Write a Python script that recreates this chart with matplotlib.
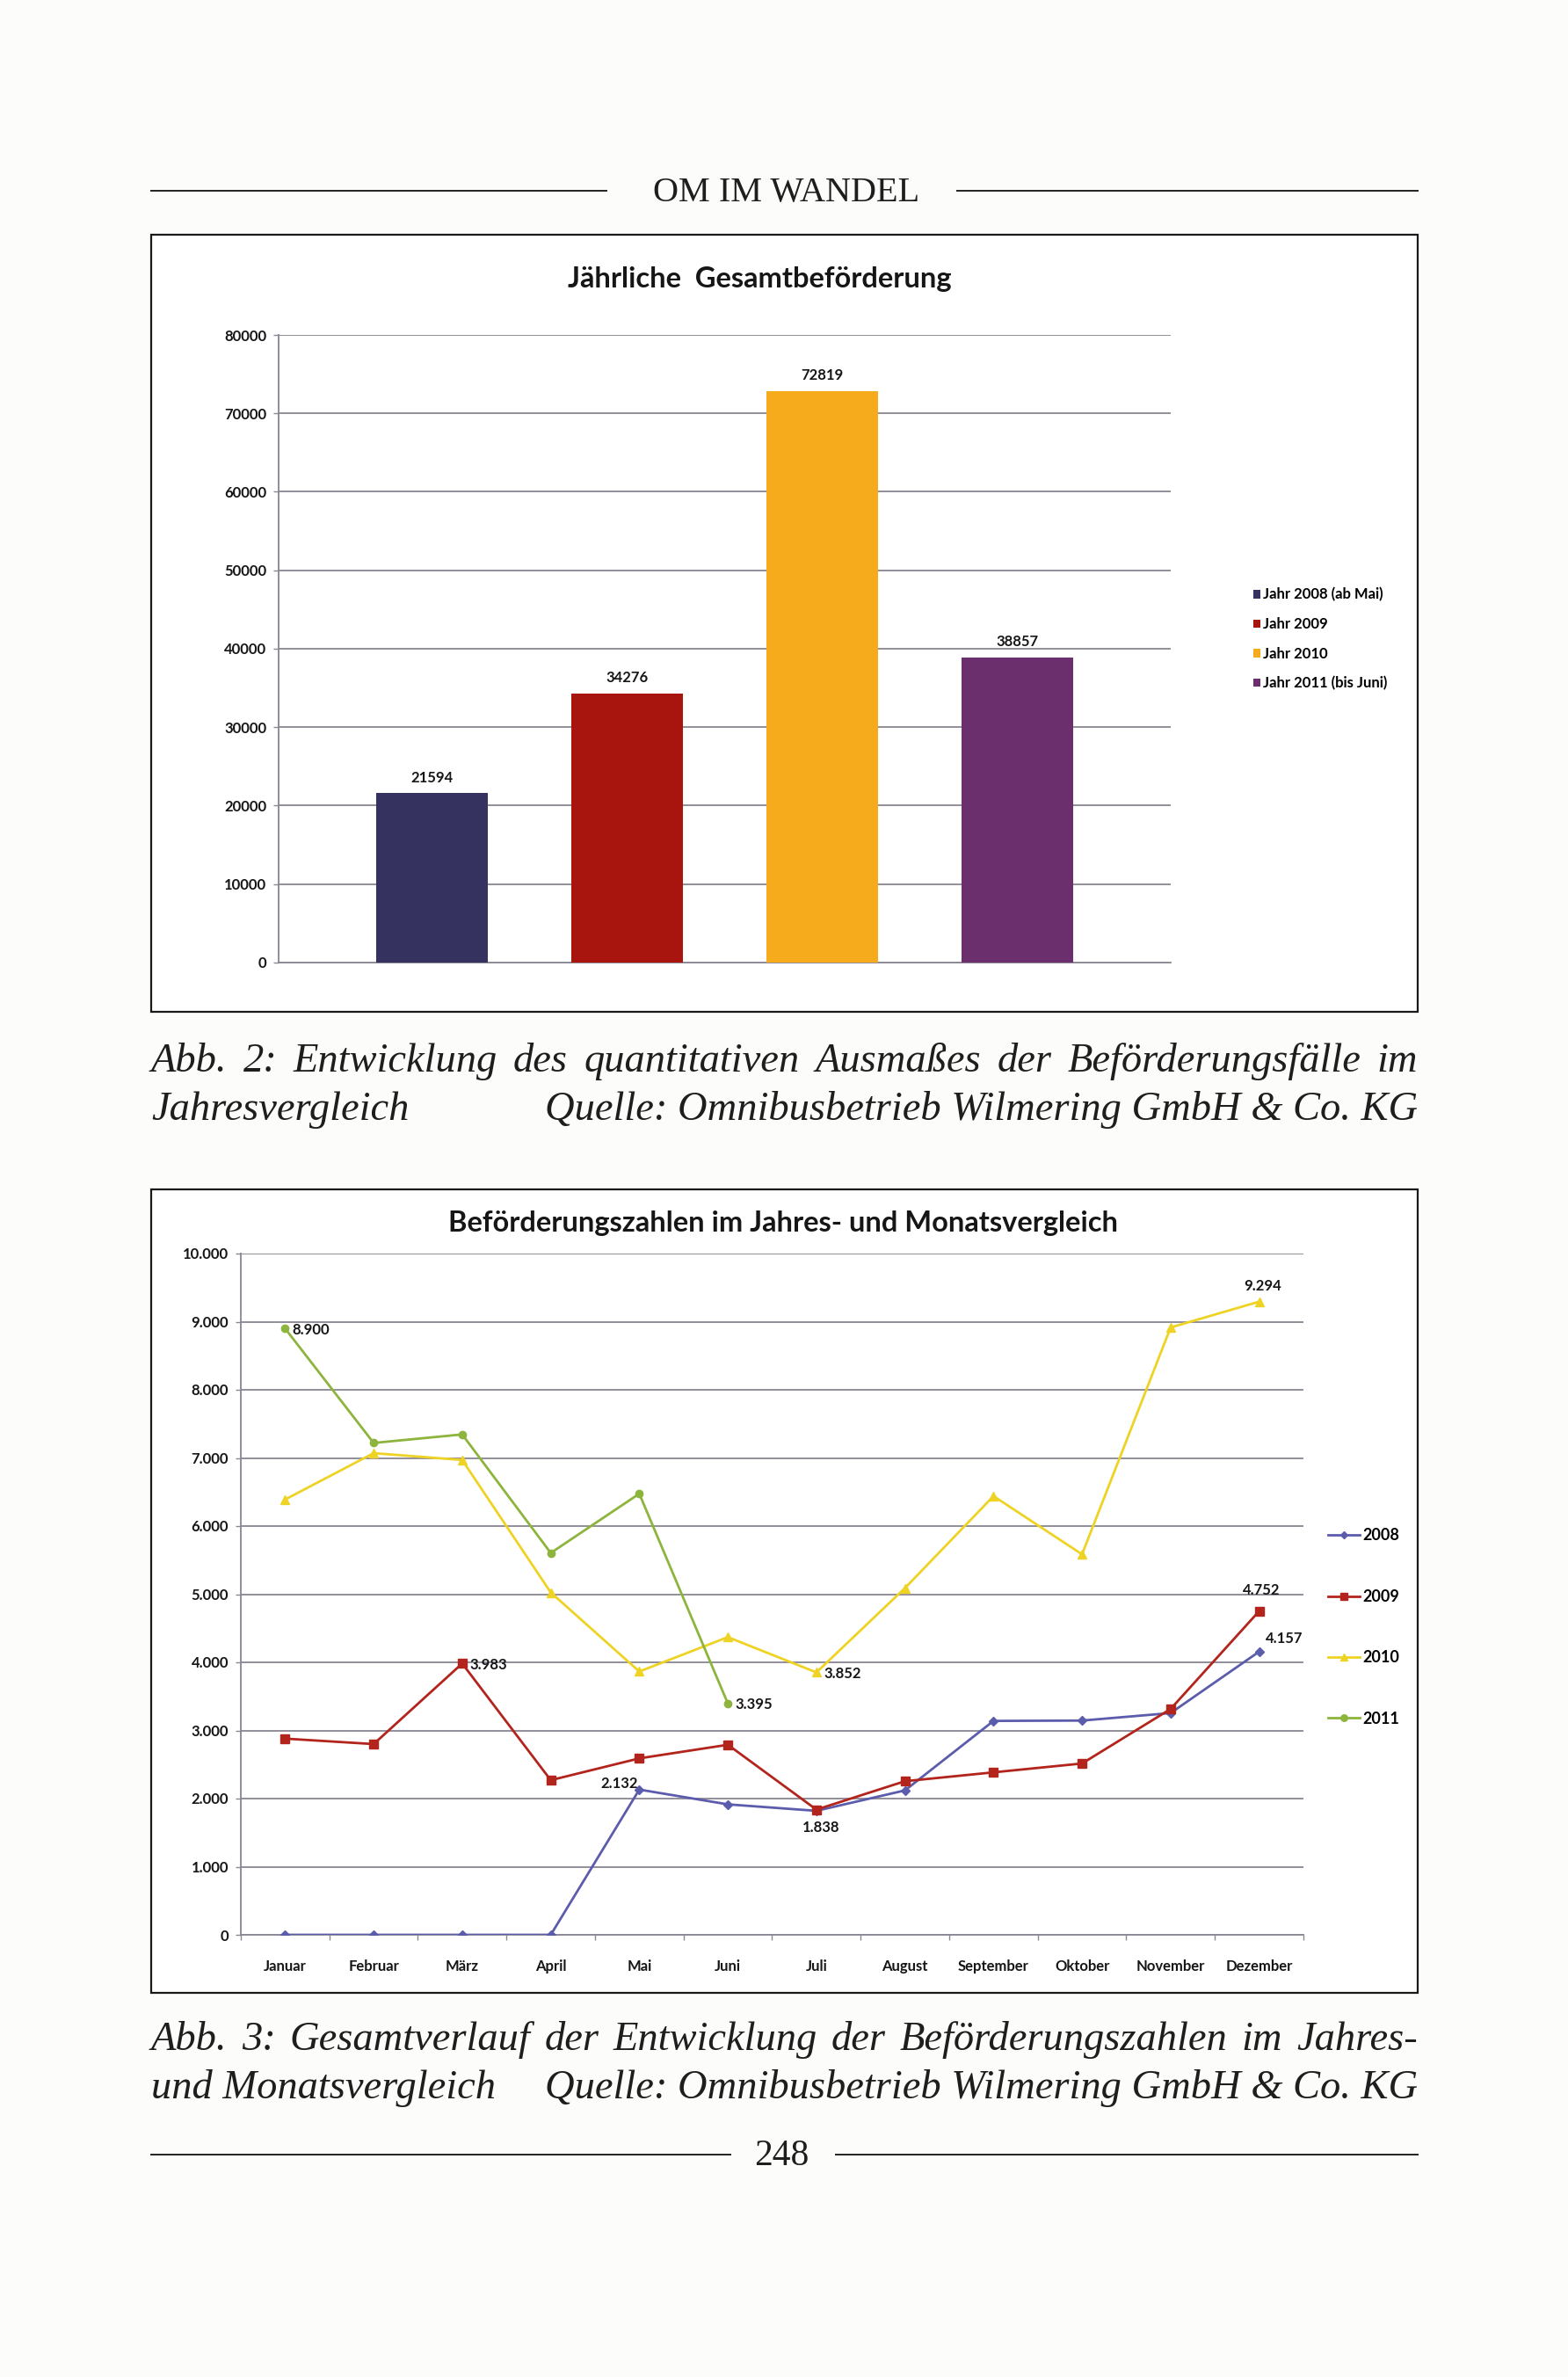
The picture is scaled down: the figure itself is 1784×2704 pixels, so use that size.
import matplotlib
matplotlib.use('Agg')
import matplotlib.pyplot as plt
from matplotlib.patches import Rectangle, Patch
from matplotlib.lines import Line2D

W, H = 1784, 2704
DPI = 100

# ---------------- data ----------------
bar_labels = ['Jahr 2008 (ab Mai)', 'Jahr 2009', 'Jahr 2010', 'Jahr 2011 (bis Juni)']
bar_values = [21594, 34276, 72819, 38857]
bar_colors = ['#35325f', '#a8150f', '#f6ab1d', '#6b2f6d']
bar_yticks = [0, 10000, 20000, 30000, 40000, 50000, 60000, 70000, 80000]

months = ['Januar', 'Februar', 'März', 'April', 'Mai', 'Juni', 'Juli',
          'August', 'September', 'Oktober', 'November', 'Dezember']
years = ['2008', '2009', '2010', '2011']
y2008 = [0, 0, 0, 0, 2132, 1915, 1820, 2120, 3140, 3145, 3255, 4157]
y2009 = [2880, 2800, 3983, 2270, 2590, 2790, 1838, 2255, 2385, 2515, 3315, 4752]
y2010 = [6390, 7070, 6970, 5025, 3865, 4370, 3852, 5090, 6440, 5585, 8915, 9294]
y2011 = [8900, 7220, 7345, 5605, 6475, 3395]
line_colors = ['#5c5cad', '#b3241d', '#efd324', '#8db43c']
line_markers = ['D', 's', '^', 'o']
line_msize = [5, 7, 7, 6]
line_yticks = [0, 1000, 2000, 3000, 4000, 5000, 6000, 7000, 8000, 9000, 10000]

# (series index, month index, label, x offset, y offset, ha, va)
line_annotations = [
    (3, 0, '8.900', 6, -1, 'left', 'center'),
    (2, 11, '9.294', 3, 7, 'center', 'bottom'),
    (1, 2, '3.983', 6, -1, 'left', 'center'),
    (1, 11, '4.752', 2, 11, 'center', 'bottom'),
    (0, 11, '4.157', 5, 5, 'left', 'bottom'),
    (2, 6, '3.852', 6, -1, 'left', 'center'),
    (3, 5, '3.395', 6, -1, 'left', 'center'),
    (0, 4, '2.132', -1, 5, 'right', 'center'),
    (1, 6, '1.838', 4, -15, 'center', 'center'),
]

caption2 = ['Abb. 2: Entwicklung des quantitativen Ausmaßes der Beförderungsfälle im',
            'Jahresvergleich', 'Quelle: Omnibusbetrieb Wilmering GmbH & Co. KG']
caption3 = ['Abb. 3: Gesamtverlauf der Entwicklung der Beförderungszahlen im Jahres-',
            'und Monatsvergleich', 'Quelle: Omnibusbetrieb Wilmering GmbH & Co. KG']

# ---------------- setup ----------------
plt.rcParams['font.family'] = ['Lato', 'DejaVu Sans']
fig = plt.figure(figsize=(W / DPI, H / DPI), dpi=DPI, facecolor='#fcfcfa')
GRID = '#8a8692'
TXT = '#161616'


def fx(x):
    return x / W


def fy(y):
    return 1 - y / H


def ax_px(l, t, r, b):
    return fig.add_axes([l / W, 1 - b / H, (r - l) / W, (b - t) / H])


def hline(x0, x1, y, lw=1.4):
    fig.add_artist(Line2D([fx(x0), fx(x1)], [fy(y), fy(y)], transform=fig.transFigure,
                          color='#222222', lw=lw))


def frame(l, t, r, b):
    fig.add_artist(Rectangle((fx(l), fy(b)), (r - l) / W, (b - t) / H,
                             transform=fig.transFigure, fill=True, facecolor='white',
                             edgecolor='#1a1a1a', lw=1.6, zorder=0))


serif = dict(family=['Liberation Serif', 'DejaVu Serif'], color='#1e1e1e')
renderer = fig.canvas.get_renderer()


def justified(line, x0, x1, y, **kw):
    words = line.split()
    texts = [fig.text(0, 0, w, ha='left', va='baseline', **kw) for w in words]
    widths = [t.get_window_extent(renderer).width for t in texts]
    gap = (x1 - x0 - sum(widths)) / (len(words) - 1)
    x = x0
    for t, w in zip(texts, widths):
        t.set_position((fx(x), fy(y)))
        x += w + gap


# ---------------- header ----------------
hline(172, 690, 217)
hline(1089, 1613, 217)
fig.text(fx(895), fy(229), 'OM IM WANDEL', ha='center', va='baseline', fontsize=29, **serif)

# ---------------- bar chart ----------------
frame(172, 267, 1613, 1151)
fig.text(fx(864), fy(317), 'Jährliche  Gesamtbeförderung', ha='center', va='center',
         fontsize=23.5, fontweight='bold', color=TXT)

ax1 = ax_px(317, 381, 1332, 1095)
ax1.set_facecolor('white')
x = list(range(len(bar_values)))
bars = ax1.bar(x, bar_values, width=0.57, color=bar_colors, zorder=3)
for xi, v in zip(x, bar_values):
    ax1.annotate(f'{v}', (xi, v), xytext=(0, 7), textcoords='offset points',
                 ha='center', va='bottom', fontsize=12, fontweight='bold', color=TXT)
ax1.set_xlim(-0.784, 3.784)
ax1.set_ylim(0, 80000)
ax1.set_yticks(bar_yticks)
ax1.set_yticklabels([str(v) for v in bar_yticks], fontweight='bold')
ax1.set_xticks([])
ax1.grid(axis='y', color=GRID, lw=1.3, zorder=0)
for s in ['top', 'right']:
    ax1.spines[s].set_visible(False)
ax1.spines['left'].set_color(GRID)
ax1.spines['bottom'].set_color(GRID)
ax1.spines['left'].set_linewidth(1.3)
ax1.spines['bottom'].set_linewidth(1.3)
ax1.tick_params(axis='y', length=4, width=1, color=GRID, pad=6, labelsize=12,
                labelcolor=TXT)
leg1 = ax1.legend(handles=[Patch(facecolor=c, label=l) for c, l in zip(bar_colors, bar_labels)],
                  loc='center left', bbox_to_anchor=(fx(1426), fy(727)),
                  bbox_transform=fig.transFigure, frameon=False,
                  prop={'size': 12, 'weight': 'bold'},
                  handlelength=0.5, handleheight=0.5, handletextpad=0.15,
                  labelspacing=1.05, borderaxespad=0, borderpad=0)

# caption 2
CAP = 33.5
justified(caption2[0], 172, 1613, 1219, fontsize=CAP, style='italic', **serif)
fig.text(fx(172), fy(1274), caption2[1], ha='left', va='baseline', fontsize=CAP,
         style='italic', **serif)
fig.text(fx(1613), fy(1274), caption2[2], ha='right', va='baseline', fontsize=CAP,
         style='italic', **serif)

# ---------------- line chart ----------------
frame(172, 1353, 1613, 2267)
fig.text(fx(891), fy(1392), 'Beförderungszahlen im Jahres- und Monatsvergleich',
         ha='center', va='center', fontsize=23.5, fontweight='bold', color=TXT)

ax2 = ax_px(274, 1426, 1483, 2201)
ax2.set_facecolor('white')
series = [y2008, y2009, y2010, y2011]
for ys, c, m, ms, lab in zip(series, line_colors, line_markers, line_msize, years):
    ax2.plot(range(len(ys)), ys, color=c, marker=m, markersize=ms, lw=2.0,
             label=lab, zorder=3, markeredgecolor=c)
for si, mi, txt, dx, dy, ha, va in line_annotations:
    ax2.annotate(txt, (mi, series[si][mi]), xytext=(dx, dy), textcoords='offset points',
                 ha=ha, va=va, fontsize=12, fontweight='bold', color=TXT)
ax2.set_xlim(-0.5, 11.5)
ax2.set_ylim(0, 10000)
ax2.set_yticks(line_yticks)
ax2.set_yticklabels(['0' if v == 0 else f'{v // 1000}.{v % 1000:03d}' for v in line_yticks],
                    fontweight='bold')
ax2.set_xticks(range(len(months)))
ax2.set_xticklabels(months, fontweight='bold')
ax2.set_xticks([i - 0.5 for i in range(len(months) + 1)], minor=True)
ax2.tick_params(axis='x', which='major', length=0, pad=20, labelsize=12,
                labelcolor=TXT)
ax2.tick_params(axis='x', which='minor', length=4, width=1, color=GRID)
ax2.tick_params(axis='y', length=4, width=1, color=GRID, pad=6, labelsize=12,
                labelcolor=TXT)
ax2.grid(axis='y', color=GRID, lw=1.3, zorder=0)
for s in ['top', 'right']:
    ax2.spines[s].set_visible(False)
ax2.spines['left'].set_color(GRID)
ax2.spines['bottom'].set_color(GRID)
ax2.spines['left'].set_linewidth(1.3)
ax2.spines['bottom'].set_linewidth(1.3)
ax2.legend(loc='center left', bbox_to_anchor=(fx(1511), fy(1851)),
           bbox_transform=fig.transFigure, frameon=False,
           prop={'size': 13, 'weight': 'bold'},
           handlelength=2.0, handletextpad=0.2, labelspacing=2.9,
           borderaxespad=0, borderpad=0, markerscale=0.9)

# caption 3
justified(caption3[0], 172, 1613, 2332, fontsize=CAP, style='italic', **serif)
fig.text(fx(172), fy(2387), caption3[1], ha='left', va='baseline', fontsize=CAP,
         style='italic', **serif)
fig.text(fx(1613), fy(2387), caption3[2], ha='right', va='baseline', fontsize=CAP,
         style='italic', **serif)

# ---------------- footer ----------------
hline(172, 831, 2451)
hline(951, 1613, 2451)
fig.text(fx(889), fy(2463), '248', ha='center', va='baseline', fontsize=30, **serif)

fig.savefig('out.png', dpi=DPI, facecolor=fig.get_facecolor())
